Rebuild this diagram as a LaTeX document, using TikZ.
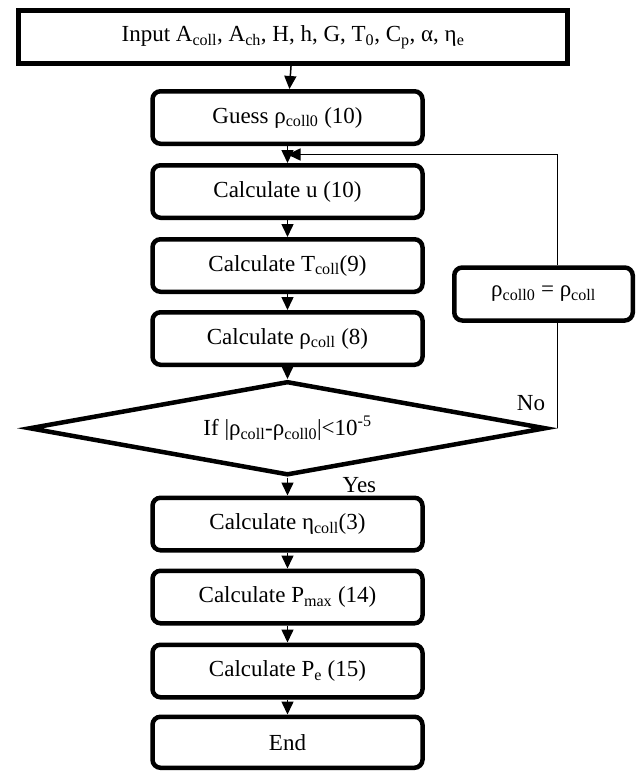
\documentclass[tikz,border=0pt]{standalone}
\usepackage{fontspec}
\setmainfont{Liberation Serif}
\usetikzlibrary{arrows.meta,shapes.geometric,positioning,calc}

\begin{document}
\begin{tikzpicture}
[x=1pt,y=-1pt,
node distance=17pt,
>={Triangle[length=13pt,width=12pt]},
every node/.style={font=\fontsize{23}{27}\selectfont},
process/.style={draw,rounded corners=8pt,line width=4.5pt,minimum width=270pt,minimum height=52.5pt,inner sep=2pt},
decision/.style={draw,diamond,aspect=5.5,line width=4.5pt,minimum width=517pt,minimum height=94pt,inner sep=0pt},
link/.style={->,line width=1.5pt},
answer/.style={inner sep=0pt}]
\useasboundingbox (0,0) rectangle (636,774);
\node (IN) [draw,line width=5pt,minimum width=549pt,minimum height=53pt] at (293,37)
{Input A\textsubscript{coll}, A\textsubscript{ch}, H, h, G, T\textsubscript{0}, C\textsubscript{p}, α, η\textsubscript{e}};
\node (GU) [process] at (287.5,117.5) {Guess ρ\textsubscript{coll0} (10)};
\node (CU) [process,below=of GU] {Calculate u (10)};
\node (CT) [process,below=of CU] {Calculate T\textsubscript{coll}(9)};
\node (CR) [process,below=16pt of CT] {Calculate ρ\textsubscript{coll} (8)};
\node (IF) [decision,below=12pt of CR] {If |ρ\textsubscript{coll}-ρ\textsubscript{coll0}|<10\textsuperscript{-5}};
\node (CE) [process,below=18pt of IF] {Calculate η\textsubscript{coll}(3)};
\node (CP) [process,below=16pt of CE] {Calculate P\textsubscript{max} (14)};
\node (PE) [process,below=of CP] {Calculate P\textsubscript{e} (15)};
\node (EN) [process,below=15pt of PE,minimum height=51pt] {End};
\node (UP) [process,minimum width=178.5pt,minimum height=53pt] at (543.5,294) {ρ\textsubscript{coll0} = ρ\textsubscript{coll}};
\node (NOL) [answer,above left=17pt and 3pt of IF.east] {No};
\node (YES) [answer,below right=0pt and 55pt of IF.south] {Yes};
\coordinate (J) at ($(GU.south)!.5!(CU.north)$);
\coordinate (NO) at ($(IF.east)+(9,0)$);
\draw [link] (IN) -- (GU);
\draw [link] (GU) -- (CU);
\draw [link] (CU) -- (CT);
\draw [link] (CT) -- (CR);
\draw [link] (CR) -- (IF);
\draw [link] (IF) -- (CE);
\draw [link] (CE) -- (CP);
\draw [link] (CP) -- (PE);
\draw [link] (PE) -- (EN);
% loop back when not converged
\draw [line width=1.5pt] (NO) -- (NO |- UP.south);
\draw [link] (NO |- UP.north) |- (J);
\end{tikzpicture}
\end{document}
